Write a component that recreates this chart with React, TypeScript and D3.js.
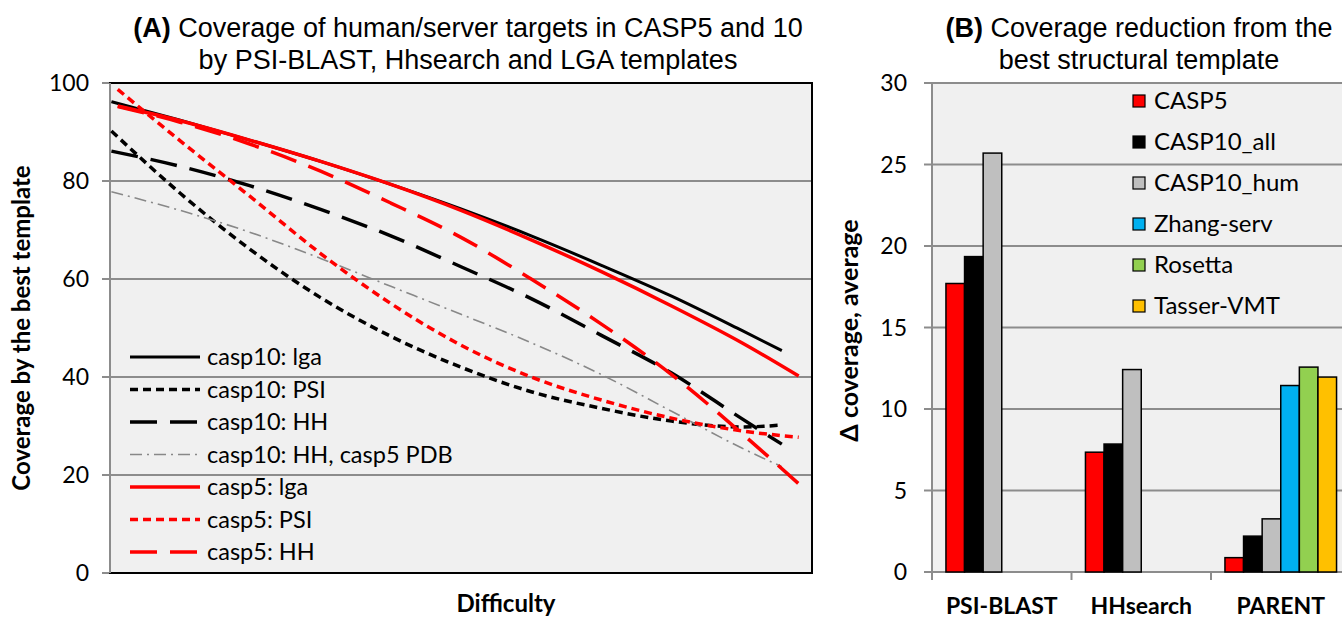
import React from "react";
import * as d3 from "d3";

// ---------- Panel A: coverage trend lines ----------
const casp10Difficulty = [0.2, 10, 20, 30, 40, 50, 60, 70, 80, 90, 95.7];
const casp5Difficulty = [1.1, 10, 20, 30, 40, 50, 60, 70, 80, 90, 98.1];

const casp10Lga = [96.2, 92.4, 88.3, 84, 79.3, 74.3, 68.8, 62.8, 56.5, 49.5, 45.4];
const casp10Psi = [90.2, 77.5, 66, 56.2, 48.3, 42, 37, 33.6, 31, 29.8, 30.2];
const casp10HH = [86.1, 83, 79, 74.2, 68.8, 62.5, 56, 48.5, 40.8, 31.5, 26.3];
const casp10HHpdb = [77.8, 74, 69.5, 64.2, 58.5, 52.8, 47, 40.5, 33, 25.5, 21.7];
const casp5Lga = [95.3, 92.3, 88.3, 84, 79.3, 74, 68, 61.5, 54.5, 47, 40.2];
const casp5Psi = [98.7, 88.2, 76.8, 65.2, 55, 46.5, 40, 35.3, 31.6, 29, 27.7];
const casp5HH = [95.2, 92, 87.5, 82, 75.5, 68.5, 60, 50.8, 40.5, 28.5, 18.2];

const yTicksA = [0, 20, 40, 60, 80, 100];

type LineDef = {
  label: string;
  x: number[];
  y: number[];
  color: string;
  width: number;
  dash: string | null;
};

const lineDefs: LineDef[] = [
  { label: "casp10: lga", x: casp10Difficulty, y: casp10Lga, color: "#000", width: 3, dash: null },
  { label: "casp10: PSI", x: casp10Difficulty, y: casp10Psi, color: "#000", width: 3.5, dash: "8 5" },
  { label: "casp10: HH", x: casp10Difficulty, y: casp10HH, color: "#000", width: 3.5, dash: "27 13" },
  { label: "casp10: HH, casp5 PDB", x: casp10Difficulty, y: casp10HHpdb, color: "#888", width: 1.6, dash: "12 5 2 5" },
  { label: "casp5: lga", x: casp5Difficulty, y: casp5Lga, color: "#ff0000", width: 3.5, dash: null },
  { label: "casp5: PSI", x: casp5Difficulty, y: casp5Psi, color: "#ff0000", width: 3.5, dash: "8 5" },
  { label: "casp5: HH", x: casp5Difficulty, y: casp5HH, color: "#ff0000", width: 3.5, dash: "27 13" },
];

// ---------- Panel B: coverage reduction bars ----------
const methods = ["PSI-BLAST", "HHsearch", "PARENT"];
const groups = ["CASP5", "CASP10_all", "CASP10_hum", "Zhang-serv", "Rosetta", "Tasser-VMT"];
const groupColors = ["#ff0000", "#000000", "#bfbfbf", "#00b0f0", "#92d050", "#ffc000"];

const casp5Delta = [17.7, 7.35, 0.88];
const casp10AllDelta = [19.35, 7.85, 2.2];
const casp10HumDelta = [25.7, 12.42, 3.26];
const zhangDelta = [null, null, 11.44];
const rosettaDelta = [null, null, 12.57];
const tasserDelta = [null, null, 11.96];
const groupValues: (number | null)[][] = [
  casp5Delta,
  casp10AllDelta,
  casp10HumDelta,
  zhangDelta,
  rosettaDelta,
  tasserDelta,
];

const yTicksB = [0, 5, 10, 15, 20, 25, 30];

const SANS = "Lato, 'Open Sans', sans-serif";
const TITLE = "'Liberation Sans', Arial, sans-serif";

export default function App() {
  const W = 1342;
  const H = 618;

  // Panel A scales
  const A = { left: 110, right: 812, top: 83, bottom: 573 };
  const xA = d3.scaleLinear().domain([0, 100]).range([A.left, A.right]);
  const yA = d3.scaleLinear().domain([0, 100]).range([A.bottom, A.top]);

  // Panel B scales
  const B = { left: 932, right: 1350.5, top: 83, bottom: 572 };
  const xB = d3.scaleBand<string>().domain(methods).range([B.left, B.right]).padding(0);
  const xInner = d3
    .scaleBand<string>()
    .domain(groups)
    .range([0, xB.bandwidth()])
    .paddingInner(0)
    .paddingOuter(0.75);
  const yB = d3.scaleLinear().domain([0, 30]).range([B.bottom, B.top]);

  const lineGen = (def: LineDef) =>
    d3
      .line<number>()
      .x((_, i) => xA(def.x[i]))
      .y((v) => yA(v))
      .curve(d3.curveMonotoneX)(def.y) || "";

  const legendAy0 = 357;
  const legendAstep = 32.5;
  const legendBy0 = 101;
  const legendBstep = 41;

  return (
    <svg
      width={W}
      height={H}
      style={{ position: "absolute", left: 0, top: 0, background: "#fff" }}
    >
      {/* ===== Panel A ===== */}
      <text x={468} y={37} textAnchor="middle" fontFamily={TITLE} fontSize={27} fill="#000">
        <tspan fontWeight="bold">(A)</tspan> Coverage of human/server targets in CASP5 and 10
      </text>
      <text x={468} y={69} textAnchor="middle" fontFamily={TITLE} fontSize={27} fill="#000">
        by PSI-BLAST, Hhsearch and LGA templates
      </text>

      <rect x={A.left} y={A.top} width={A.right - A.left} height={A.bottom - A.top} fill="#f0f0f0" />
      {yTicksA.map((t) => (
        <g key={"ga" + t}>
          {t > 0 && t < 100 && (
            <line x1={A.left} x2={A.right} y1={yA(t)} y2={yA(t)} stroke="#8c8c8c" strokeWidth={2} />
          )}
          <line x1={A.left - 8} x2={A.left} y1={yA(t)} y2={yA(t)} stroke="#8c8c8c" strokeWidth={2} />
          <text
            x={89}
            y={yA(t)}
            dy="0.35em"
            textAnchor="end"
            fontFamily={SANS}
            fontSize={23}
            fill="#000"
          >
            {t}
          </text>
        </g>
      ))}
      <rect
        x={A.left}
        y={A.top}
        width={A.right - A.left}
        height={A.bottom - A.top}
        fill="none"
        stroke="#000"
        strokeWidth={2}
      />
      <line x1={A.left} x2={A.left} y1={A.top} y2={A.bottom} stroke="#8c8c8c" strokeWidth={2} />

      {lineDefs.map((def) => (
        <path
          key={def.label}
          d={lineGen(def)}
          fill="none"
          stroke={def.color}
          strokeWidth={def.width}
          strokeDasharray={def.dash ?? undefined}
        />
      ))}

      {/* Legend A */}
      {lineDefs.map((def, i) => {
        const y = legendAy0 + i * legendAstep;
        return (
          <g key={"la" + def.label}>
            <line
              x1={130}
              x2={200}
              y1={y}
              y2={y}
              stroke={def.color}
              strokeWidth={def.width}
              strokeDasharray={def.dash ?? undefined}
            />
            <text x={207} y={y} dy="0.35em" fontFamily={SANS} fontSize={23.5} fill="#000">
              {def.label}
            </text>
          </g>
        );
      })}

      <text
        transform={`translate(30, ${(A.top + A.bottom) / 2}) rotate(-90)`}
        textAnchor="middle"
        fontFamily={SANS}
        fontWeight="bold"
        fontSize={24}
        fill="#000"
      >
        Coverage by the best template
      </text>
      <text
        x={506}
        y={612}
        textAnchor="middle"
        fontFamily={SANS}
        fontWeight="bold"
        fontSize={24}
        fill="#000"
      >
        Difficulty
      </text>

      {/* ===== Panel B ===== */}
      <text x={1139} y={37} textAnchor="middle" fontFamily={TITLE} fontSize={27} fill="#000">
        <tspan fontWeight="bold">(B)</tspan> Coverage reduction from the
      </text>
      <text x={1139} y={69} textAnchor="middle" fontFamily={TITLE} fontSize={27} fill="#000">
        best structural template
      </text>

      <rect x={B.left} y={B.top} width={B.right - B.left} height={B.bottom - B.top} fill="#f0f0f0" />
      {yTicksB.map((t) => (
        <g key={"gb" + t}>
          {t > 0 && (
            <line x1={B.left} x2={B.right} y1={yB(t)} y2={yB(t)} stroke="#8c8c8c" strokeWidth={2} />
          )}
          <line x1={B.left - 8} x2={B.left} y1={yB(t)} y2={yB(t)} stroke="#8c8c8c" strokeWidth={2} />
          <text
            x={907}
            y={yB(t)}
            dy="0.35em"
            textAnchor="end"
            fontFamily={SANS}
            fontSize={23}
            fill="#000"
          >
            {t}
          </text>
        </g>
      ))}
      <line x1={B.left} x2={B.left} y1={B.top} y2={B.bottom} stroke="#8c8c8c" strokeWidth={2} />
      <line x1={B.left} x2={B.right} y1={B.bottom} y2={B.bottom} stroke="#8c8c8c" strokeWidth={2} />
      {methods.map((m) => (
        <line
          key={"tb" + m}
          x1={xB(m)!}
          x2={xB(m)!}
          y1={B.bottom}
          y2={B.bottom + 8}
          stroke="#8c8c8c"
          strokeWidth={2}
        />
      ))}

      {groups.map((g, gi) =>
        methods.map((m, mi) => {
          const v = groupValues[gi][mi];
          if (v == null) return null;
          const x = xB(m)! + xInner(g)!;
          return (
            <rect
              key={g + m}
              x={x}
              y={yB(v)}
              width={xInner.bandwidth()}
              height={yB(0) - yB(v)}
              fill={groupColors[gi]}
              stroke="#000"
              strokeWidth={1.5}
            />
          );
        })
      )}

      {methods.map((m) => (
        <text
          key={"cl" + m}
          x={xB(m)! + xB.bandwidth() / 2}
          y={614}
          textAnchor="middle"
          fontFamily={SANS}
          fontWeight="bold"
          fontSize={23}
          fill="#000"
        >
          {m}
        </text>
      ))}

      {/* Legend B */}
      {groups.map((g, gi) => {
        const y = legendBy0 + gi * legendBstep;
        return (
          <g key={"lb" + g}>
            <rect x={1133} y={y - 6} width={12} height={12} fill={groupColors[gi]} stroke="#000" strokeWidth={1.2} />
            <text x={1154} y={y} dy="0.35em" fontFamily={SANS} fontSize={24} fill="#000">
              {g}
            </text>
          </g>
        );
      })}

      <text
        transform={`translate(858, ${(B.top + B.bottom) / 2 + 3}) rotate(-90)`}
        textAnchor="middle"
        fontFamily={SANS}
        fontWeight="bold"
        fontSize={25}
        fill="#000"
      >
        Δ coverage, average
      </text>
    </svg>
  );
}
